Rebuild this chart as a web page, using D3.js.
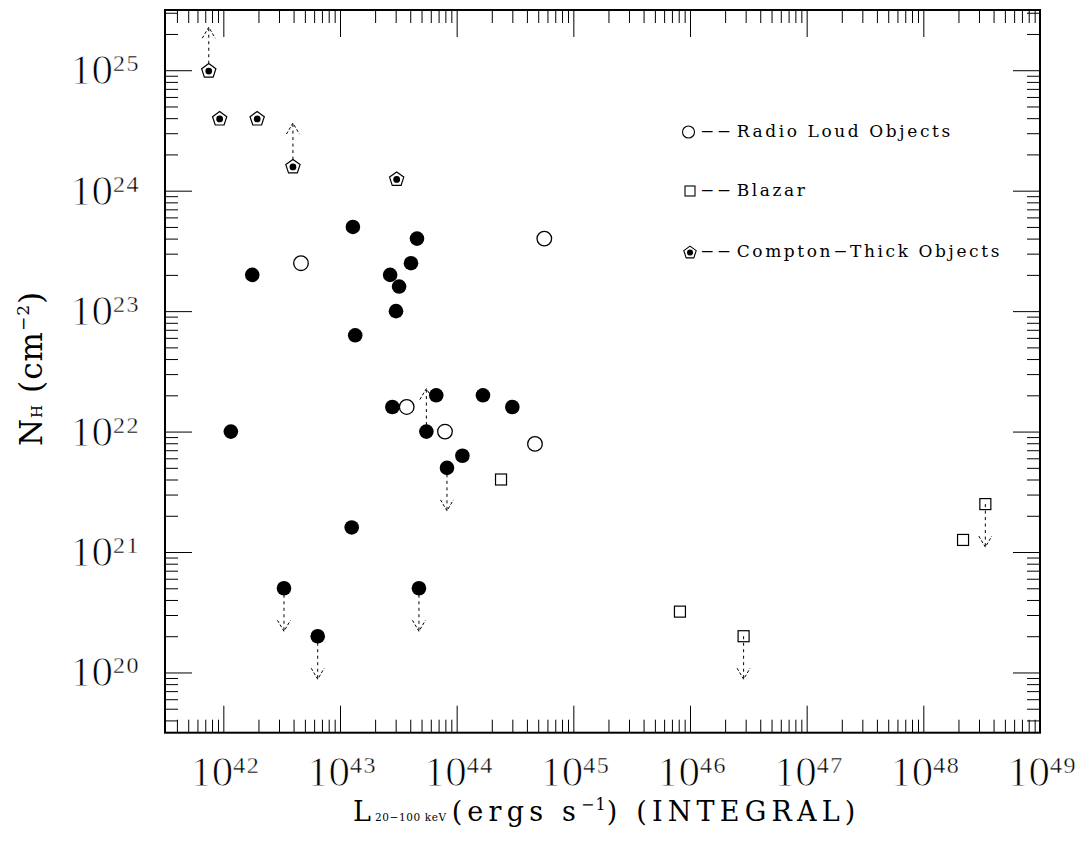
<!DOCTYPE html>
<meta charset="utf-8">
<script src="https://d3js.org/d3.v7.min.js"></script>
<style>
  body { margin: 0; background: #fff; }
  text { font-family: "Liberation Serif", serif; fill: #000; }
  .title, .legend { font-family: "DejaVu Serif", serif; }
  .tick-label { stroke: #fff; stroke-width: 1; }
  .tick-label .sup { stroke-width: 0.4; }
</style>
<div id="chart"></div>
<script>
// Seyferts (filled circles)
const seyfertL  = [1.16e42, 1.77e42, 3.31e42, 6.44e42, 1.26e43, 1.29e43, 1.35e43, 2.69e43, 2.81e43, 3.02e43,
                   3.21e43, 4.06e43, 4.57e43, 4.75e43, 5.50e43, 6.68e43, 8.26e43, 1.12e44, 1.68e44, 3.00e44];
const seyfertNH = [1.0e22, 2.0e23, 5.0e20, 2.0e20, 1.6e21, 5.0e23, 6.3e22, 2.0e23, 1.6e22, 1.0e23,
                   1.6e23, 2.5e23, 4.0e23, 5.0e20, 1.0e22, 2.0e22, 5.0e21, 6.3e21, 2.0e22, 1.6e22];
const seyfertLimit = ["", "", "down", "down", "", "", "", "", "", "",
                      "", "", "", "down", "up", "", "down", "", "", ""];

// Radio loud objects (open circles)
const radioL  = [4.63e42, 3.73e43, 7.94e43, 4.69e44, 5.64e44];
const radioNH = [2.5e23, 1.6e22, 1.0e22, 7.9e21, 4.0e23];

// Blazars (open squares)
const blazarL  = [2.40e44, 8.20e45, 2.88e46, 2.19e48, 3.40e48];
const blazarNH = [4.0e21, 3.2e20, 2.0e20, 1.26e21, 2.5e21];
const blazarLimit = ["", "", "down", "", "down"];

// Compton-thick objects (pentagons)
const ctL  = [7.5e41, 9.3e41, 1.95e42, 3.95e42, 3.06e43];
const ctNH = [1.0e25, 4.0e24, 4.0e24, 1.6e24, 1.26e24];
const ctLimit = ["up", "", "", "up", ""];

const xTickExp = [42, 43, 44, 45, 46, 47, 48, 49];
const yTickExp = [20, 21, 22, 23, 24, 25];
const legendLabels = ["Radio Loud Objects", "Blazar", "Compton\u2212Thick Objects"];

const W = 1086, H = 842;
const pLeft = 165, pRight = 1040, pTop = 10, pBottom = 732.7;

const svg = d3.select("#chart").append("svg")
    .attr("width", W).attr("height", H);

const x = d3.scaleLog().domain([Math.pow(10, 41.5), 1e49]).range([pLeft, pRight]);
const y = d3.scaleLog().domain([Math.pow(10, 19.5), Math.pow(10, 25.5)]).range([pBottom, pTop]);

const isMajor = v => Math.abs(Math.log10(v) - Math.round(Math.log10(v))) < 1e-9;
const xMinor = x.ticks().filter(v => !isMajor(v)), xMajor = x.ticks().filter(isMajor);
const yMinor = y.ticks().filter(v => !isMajor(v)), yMajor = y.ticks().filter(isMajor);

function ticks(axis, vals, size, tr) {
    svg.append("g")
        .attr("transform", tr)
        .call(axis.tickValues(vals).tickSize(-size).tickFormat(""))
        .call(g => g.select(".domain").remove())
        .selectAll("line").attr("stroke-width", 1);
}
[[xMinor, 13], [xMajor, 27]].forEach(([v, s]) => {
    ticks(d3.axisBottom(x), v, s, `translate(0,${pBottom})`);
    ticks(d3.axisTop(x), v, s, `translate(0,${pTop})`);
});
[[yMinor, 13], [yMajor, 27]].forEach(([v, s]) => {
    ticks(d3.axisLeft(y), v, s, `translate(${pLeft},0)`);
    ticks(d3.axisRight(y), v, s, `translate(${pRight},0)`);
});

svg.append("rect")
    .attr("x", pLeft).attr("y", pTop)
    .attr("width", pRight - pLeft).attr("height", pBottom - pTop)
    .attr("fill", "none").attr("stroke", "#000").attr("stroke-width", 2);

// tick labels
const xl = svg.append("g").selectAll("text").data(xTickExp).join("text")
    .attr("class", "tick-label")
    .attr("x", d => x(Math.pow(10, d)) + 2)
    .attr("y", 786)
    .attr("text-anchor", "middle");
xl.append("tspan").attr("font-size", 43).text("10");
xl.append("tspan").attr("class", "sup").attr("font-size", 24).attr("dy", -13).attr("letter-spacing", 1.5).text(d => d);

const yl = svg.append("g").selectAll("text").data(yTickExp).join("text")
    .attr("class", "tick-label")
    .attr("x", 140)
    .attr("y", d => y(Math.pow(10, d)) + 14)
    .attr("text-anchor", "end");
yl.append("tspan").attr("font-size", 43).text("10");
yl.append("tspan").attr("class", "sup").attr("font-size", 24).attr("dy", -13).attr("letter-spacing", 1.5).text(d => d);

// axis titles
const xt = svg.append("text").attr("class", "title")
    .attr("x", 353).attr("y", 821).attr("letter-spacing", 5.2);
xt.append("tspan").attr("font-size", 27).attr("letter-spacing", 4).text("L");
xt.append("tspan").attr("font-size", 10.5).attr("letter-spacing", 0.6).text("20\u2212100 keV");
xt.append("tspan").attr("font-size", 27).attr("dx", 5).text("(ergs s");
xt.append("tspan").attr("font-size", 16).attr("dy", -11).attr("letter-spacing", 1).text("\u22121");
xt.append("tspan").attr("font-size", 27).attr("dy", 11).text(") (INTEGRAL)");

const yt = svg.append("text").attr("class", "title")
    .attr("transform", "translate(42,446) rotate(-90)")
    .attr("letter-spacing", 1);
yt.append("tspan").attr("font-size", 31).text("N");
yt.append("tspan").attr("font-size", 15).text("H");
yt.append("tspan").attr("font-size", 31).text(" (cm");
yt.append("tspan").attr("font-size", 17).attr("dy", -13).text("\u22122");
yt.append("tspan").attr("font-size", 31).attr("dy", 13).text(")");

// markers
function pentagon(cx, cy, r) {
    return d3.range(5).map(k => {
        const a = (-90 + k * 72) * Math.PI / 180;
        return [cx + r * Math.cos(a), cy + r * Math.sin(a)];
    }).map((p, i) => (i ? "L" : "M") + p[0].toFixed(2) + "," + p[1].toFixed(2)).join("") + "Z";
}

const limits = svg.append("g").attr("fill", "none").attr("stroke", "#000").attr("stroke-width", 1);
function drawLimit(px, py, dir) {
    const tip = py + dir * 43;
    limits.append("line")
        .attr("x1", px).attr("y1", py).attr("x2", px).attr("y2", tip)
        .attr("stroke-dasharray", "3,3.5");
    limits.append("path")
        .attr("d", `M${px - 6.5},${tip - dir * 11}L${px},${tip}L${px + 6.5},${tip - dir * 11}`)
        .attr("stroke-dasharray", "3,2");
}
const dirOf = s => s === "down" ? 1 : (s === "up" ? -1 : 0);
seyfertL.forEach((L, i) => { if (seyfertLimit[i]) drawLimit(x(L), y(seyfertNH[i]), dirOf(seyfertLimit[i])); });
blazarL.forEach((L, i) => { if (blazarLimit[i]) drawLimit(x(L), y(blazarNH[i]), dirOf(blazarLimit[i])); });
ctL.forEach((L, i) => { if (ctLimit[i]) drawLimit(x(L), y(ctNH[i]), dirOf(ctLimit[i])); });

svg.append("g").selectAll("circle").data(d3.zip(seyfertL, seyfertNH)).join("circle")
    .attr("cx", d => x(d[0])).attr("cy", d => y(d[1])).attr("r", 7.3)
    .attr("fill", "#000");

svg.append("g").selectAll("circle").data(d3.zip(radioL, radioNH)).join("circle")
    .attr("cx", d => x(d[0])).attr("cy", d => y(d[1])).attr("r", 7.3)
    .attr("fill", "#fff").attr("stroke", "#000").attr("stroke-width", 1.3);

svg.append("g").selectAll("rect").data(d3.zip(blazarL, blazarNH)).join("rect")
    .attr("x", d => x(d[0]) - 5.5).attr("y", d => y(d[1]) - 5.5)
    .attr("width", 11).attr("height", 11)
    .attr("fill", "none").attr("stroke", "#000").attr("stroke-width", 1.2);

const ct = svg.append("g").selectAll("g").data(d3.zip(ctL, ctNH)).join("g");
ct.append("path").attr("d", d => pentagon(x(d[0]), y(d[1]) + 0.8, 7.5))
    .attr("fill", "#fff").attr("stroke", "#000").attr("stroke-width", 1.2);
ct.append("circle").attr("cx", d => x(d[0])).attr("cy", d => y(d[1]) + 0.8).attr("r", 3.4)
    .attr("fill", "#000");

// legend
const legY = [132, 191, 252];
const lg = svg.append("g");
lg.append("circle").attr("cx", 688.5).attr("cy", legY[0]).attr("r", 6)
    .attr("fill", "#fff").attr("stroke", "#000").attr("stroke-width", 1.1);
lg.append("rect").attr("x", 685).attr("y", legY[1] - 5).attr("width", 10).attr("height", 10)
    .attr("fill", "none").attr("stroke", "#000").attr("stroke-width", 1.1);
lg.append("path").attr("d", pentagon(690, legY[2] + 0.6, 6.5))
    .attr("fill", "#fff").attr("stroke", "#000").attr("stroke-width", 1.1);
lg.append("circle").attr("cx", 690).attr("cy", legY[2] + 0.6).attr("r", 3).attr("fill", "#000");

lg.selectAll("text.dash").data(legendLabels).join("text")
    .attr("class", "legend dash")
    .attr("x", 700).attr("y", (d, i) => legY[i] + 5)
    .attr("font-size", 17).attr("letter-spacing", 2.5)
    .text("\u2212\u2212");
lg.selectAll("text.lab").data(legendLabels).join("text")
    .attr("class", "legend lab")
    .attr("x", 736.7).attr("y", (d, i) => legY[i] + 5)
    .attr("font-size", 17).attr("letter-spacing", 2.6)
    .text(d => d);
</script>
